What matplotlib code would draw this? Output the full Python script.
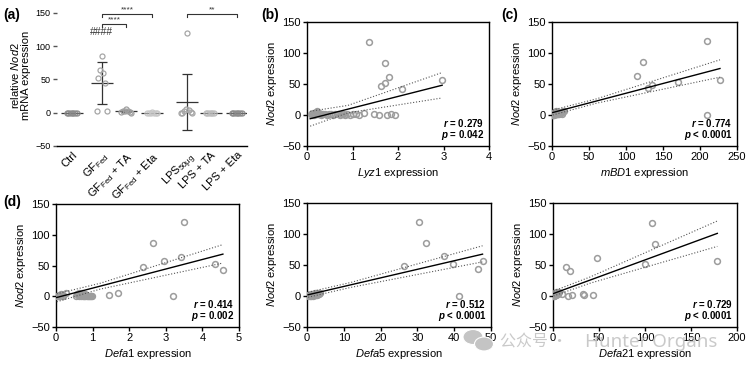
import matplotlib
matplotlib.use('Agg')
import matplotlib.pyplot as plt
import numpy as np
from matplotlib.patches import Ellipse

plt.rcParams['font.family'] = ['Liberation Sans', 'DejaVu Sans']
plt.rcParams['mathtext.fontset'] = 'custom'
plt.rcParams['mathtext.rm'] = 'Liberation Sans'
plt.rcParams['mathtext.it'] = 'Liberation Sans:italic'
plt.rcParams['mathtext.bf'] = 'Liberation Sans:bold'
plt.rcParams['mathtext.bfit'] = 'Liberation Sans:italic:bold'

# ---- panel (a): relative Nod2 mRNA expression per group ----
group_labels = ['Ctrl', r'GF$_{\rm Fed}$', r'GF$_{\rm Fed}$ + TA', r'GF$_{\rm Fed}$ + Eta',
                r'LPS$_{\rm 50\mu g}$', 'LPS + TA', 'LPS + Eta']
ctrl_vals = [0, 0, 0, 0, 0, 0, 0]
gf_vals = [86, 64, 59, 52, 45, 3, 3]
gf_ta_vals = [5, 3, 2, 2, 1, 1, 0]
gf_eta_vals = [0.5, 0, 0, 0, 0, 0, 0]
lps_vals = [120, 6, 4, 2, 1, 0, 0, 0]
lps_ta_vals = [0, 0, 0, 0, 0, 0]
lps_eta_vals = [0, 0, 0, 0, 0, 0, 0]
group_vals = [ctrl_vals, gf_vals, gf_ta_vals, gf_eta_vals, lps_vals, lps_ta_vals, lps_eta_vals]

# ---- scatter panels: Nod2 vs antimicrobial peptide expression ----
lyz1_x = [1.37, 1.72, 1.81, 1.72, 1.63, 2.09, 2.97,
          0.08, 0.1, 0.11, 0.12, 0.13, 0.15, 0.16, 0.17, 0.18, 0.2, 0.21, 0.22, 0.23, 0.25,
          0.26, 0.27, 0.3, 0.33, 0.36, 0.4, 0.44, 0.48, 0.52, 0.58, 0.62, 0.68, 0.72, 0.76,
          0.8, 0.84, 0.88, 0.95, 1.02, 1.08, 1.14, 1.25, 1.47, 1.58, 1.76, 1.85, 1.93]
lyz1_y = [118, 84, 62, 52, 47, 42, 57,
          1, 0, 2, 1, 3, 0, 2, 4, 1, 5, 2, 6, 3, 1,
          4, 2, 0, 1, 2, 1, 0, 1, 2, 0, 1, 2, 0, 1,
          2, 0, 1, 0, 1, 2, 0, 3, 1, 0, 0, 1, 0]

mbd1_x = [209, 123, 115, 227, 170, 135, 130, 209,
          0.3, 0.5, 0.8, 1, 1.2, 1.5, 1.8, 2, 2.3, 2.6, 3, 3.2, 3.5, 3.8, 4, 4.4, 4.8,
          5, 5.3, 5.7, 6, 6.4, 6.8, 7, 7.5, 8, 8.5, 9, 9.5, 10, 11, 12, 13, 14, 15, 16]
mbd1_y = [119, 85, 63, 57, 53, 48, 43, 0,
          0, 1, 0, 2, 1, 0, 3, 1, 2, 0, 4, 1, 2, 5, 3, 1, 2,
          6, 4, 2, 3, 1, 5, 2, 3, 4, 1, 2, 3, 5, 4, 3, 2, 5, 6, 6]

defa1_x = [3.5, 2.66, 2.94, 3.41, 2.39, 4.35, 4.56, 3.21, 1.45, 1.69, 0.27,
           0.02, 0.04, 0.06, 0.08, 0.1, 0.12, 0.14, 0.16, 0.18, 0.2,
           0.55, 0.58, 0.6, 0.62, 0.64, 0.66, 0.68, 0.7, 0.72, 0.74, 0.76, 0.78,
           0.8, 0.82, 0.85, 0.88, 0.9, 0.93, 0.96, 0.99]
defa1_y = [120, 86, 57, 64, 48, 53, 43, 0, 2, 6, 5,
           0, 1, 0, 2, 1, 0, 3, 1, 2, 0,
           1, 4, 2, 6, 0, 3, 1, 5, 2, 0, 1, 3,
           0, 2, 1, 0, 1, 0, 1, 0]

defa5_x = [30.5, 32.4, 37.1, 39.8, 26.4, 47.7, 46.6, 41.2,
           0.3, 0.5, 0.7, 0.9, 1.0, 1.2, 1.4, 1.5, 1.7, 1.8, 2.0, 2.1, 2.3, 2.4, 2.6,
           2.7, 2.9, 3.0, 3.2, 3.4, 0.6, 1.1, 1.6, 2.2, 0.4, 1.3]
defa5_y = [119, 85, 64, 52, 48, 57, 43, 0,
           0, 1, 2, 0, 3, 1, 2, 0, 4, 1, 2, 5, 3, 1, 4,
           2, 5, 3, 4, 5, 1, 0, 3, 2, 2, 1]

defa21_x = [108, 111, 48, 14, 19, 100, 178.6, 10, 16, 21, 33, 34, 43,
            0.2, 0.4, 0.6, 0.8, 1, 1.2, 1.5, 1.8, 2, 2.3, 2.6, 3, 3.3, 3.6, 4,
            4.4, 4.8, 5.2, 5.6, 6, 0.5, 1.3, 2.8, 3.8]
defa21_y = [118, 84, 62, 46, 41, 51, 56, 3, 0, 2, 3, 1, 2,
            0, 1, 0, 2, 3, 1, 4, 2, 5, 1, 3, 6, 2, 4, 5,
            3, 6, 4, 5, 6, 2, 0, 1, 3]

# fitted regression lines and 95% bands
lyz1_fit = ([0.07, 2.97], [-6, 48]);   lyz1_ci = ([0.07, 0.9, 2.97], [6, 15.5, 68.5], [-18, 3.5, 27.5])
mbd1_fit = ([1, 227], [4, 75]);        mbd1_ci = ([1, 60, 227], [8, 26, 89], [0, 19, 61])
defa1_fit = ([0.02, 4.56], [-2, 68.5]); defa1_ci = ([0.02, 1.2, 4.56], [4, 21, 84], [-9, 11.5, 54])
defa5_fit = ([0.3, 47.7], [2, 67.5]);  defa5_ci = ([0.3, 12, 47.7], [6, 22, 81], [-2, 14, 55])
defa21_fit = ([0.5, 178.6], [4, 101]); defa21_ci = ([0.5, 40, 178.6], [8, 30.5, 121], [0, 20.5, 80])

stats = {'b': ('0.279', '= 0.042'), 'c': ('0.774', '< 0.0001'), 'd': ('0.414', '= 0.002'),
         'e': ('0.512', '< 0.0001'), 'f': ('0.729', '< 0.0001')}

W, H = 750, 369
fig = plt.figure(figsize=(7.5, 3.69), dpi=100)


def px_axes(left, top, right, bottom):
    return fig.add_axes([left / W, 1 - bottom / H, (right - left) / W, (bottom - top) / H])


def style_axes(ax):
    for s in ax.spines.values():
        s.set_linewidth(1.0)
        s.set_color('black')
    ax.tick_params(direction='out', length=3, width=1, labelsize=8, pad=1.5)


# ---------- panel (a) ----------
ax = px_axes(57, 4.3, 247, 146)
positions = [0, 1.15, 2.1, 3.1, 4.45, 5.35, 6.35]
pt_colors = ['#8c8c8c', '#a6a6a6', '#a0a0a0', '#c8c8c8', '#a6a6a6', '#bdbdbd', '#8c8c8c']
for pos, vals, col in zip(positions, group_vals, pt_colors):
    v = sorted(vals, reverse=True)
    offs = [((i + 1) // 2) * 0.065 * (-1) ** i for i in range(len(v))]
    ax.plot(pos + np.array(offs), v, 'o', ms=3.6, mfc='none', mec=col, mew=0.9, zorder=3)
    m = np.mean(vals)
    sd = np.std(vals, ddof=1)
    ax.hlines(m, pos - 0.42, pos + 0.42, color='#333333', lw=0.9, zorder=2)
    if sd > 0.5:
        ax.errorbar(pos, m, yerr=sd, fmt='none', ecolor='#333333', elinewidth=0.9,
                    capsize=3.5, capthick=0.9, zorder=2)

ax.text(positions[1], 114, '####', ha='center', va='bottom', fontsize=7.5, color='#333333')


def bracket(x1, x2, y, txt):
    ax.plot([x1, x1, x2, x2], [y - 4, y, y, y - 4], color='#333333', lw=0.8)
    ax.text((x1 + x2) / 2, y + 1, txt, ha='center', va='bottom', fontsize=6, color='#333333')


bracket(positions[1], positions[2], 133, '****')
bracket(positions[1], positions[3], 148, '****')
bracket(positions[4], positions[6], 148, '**')

ax.set_xlim(-0.57, 6.75)
ax.set_ylim(-50, 163)
ax.set_yticks([-50, 0, 50, 100, 150])
ax.set_xticks(positions)
ax.set_xticklabels(group_labels, rotation=45, ha='right', rotation_mode='anchor', fontsize=5.5)
style_axes(ax)
ax.tick_params(axis='x', length=0, pad=3)
ax.tick_params(axis='y', labelsize=6.5, color='#555555')
ax.spines['left'].set_visible(False)
ax.spines['top'].set_visible(False)
ax.spines['right'].set_visible(False)
ax.set_ylabel('relative $\\mathit{Nod2}$\nmRNA expression', fontsize=8, labelpad=3, linespacing=1.0)


# ---------- scatter panels ----------
def scatter_panel(box, x, y, fit, ci, xlim, xticks, gene, key):
    ax = px_axes(*box)
    ax.plot(x, y, 'o', ms=4.2, mfc='none', mec='#9c9c9c', mew=1.1, zorder=3)
    ax.plot(fit[0], fit[1], color='black', lw=1.0, zorder=4)
    ax.plot(ci[0], ci[1], color='#555555', lw=0.8, ls=':', zorder=4)
    ax.plot(ci[0], ci[2], color='#555555', lw=0.8, ls=':', zorder=4)
    ax.set_xlim(*xlim)
    ax.set_ylim(-50, 150)
    ax.set_xticks(xticks)
    ax.set_yticks([-50, 0, 50, 100, 150])
    style_axes(ax)
    ax.set_xlabel('$\\mathit{%s}$ expression' % gene, fontsize=8, labelpad=3)
    ax.set_ylabel('$\\mathit{Nod2}$ expression', fontsize=8, labelpad=2)
    r, p = stats[key]
    ax.text(0.975, 0.14, '$\\mathbfit{r}$ = ' + r, transform=ax.transAxes, ha='right',
            va='bottom', fontsize=7, fontweight='bold')
    ax.text(0.975, 0.03, '$\\mathbfit{p}$ ' + p, transform=ax.transAxes, ha='right',
            va='bottom', fontsize=7, fontweight='bold')
    return ax


scatter_panel((307, 22, 489, 146), lyz1_x, lyz1_y, lyz1_fit, lyz1_ci, (0, 4), [0, 1, 2, 3, 4], 'Lyz1', 'b')
scatter_panel((552, 22, 737, 146), mbd1_x, mbd1_y, mbd1_fit, mbd1_ci, (0, 250), [0, 50, 100, 150, 200, 250], 'mBD1', 'c')
scatter_panel((56, 204, 239, 327), defa1_x, defa1_y, defa1_fit, defa1_ci, (0, 5), [0, 1, 2, 3, 4, 5], 'Defa1', 'd')
scatter_panel((307, 203, 491, 327), defa5_x, defa5_y, defa5_fit, defa5_ci, (0, 50), [0, 10, 20, 30, 40, 50], 'Defa5', 'e')
scatter_panel((553, 203, 737, 327), defa21_x, defa21_y, defa21_fit, defa21_ci, (0, 200), [0, 50, 100, 150, 200], 'Defa21', 'f')

# panel letters
for lab, (px, py) in {'(a)': (3, 15), '(b)': (261, 15), '(c)': (501, 15), '(d)': (3, 202)}.items():
    fig.text(px / W, 1 - py / H, lab, fontsize=10, fontweight='bold', va='center', ha='left')

# watermark
for (cx, cy, w, h) in [(473, 337, 20, 15), (484, 344, 19, 14)]:
    fig.add_artist(Ellipse((cx / W, 1 - cy / H), w / W, h / H, transform=fig.transFigure,
                           facecolor='#c4c4c4', edgecolor='white', lw=0.8, zorder=10))
fig.text(500 / W, 1 - 342 / H, '公众号 ·', fontsize=11.5, color='#c4c4c4', va='center',
         family=['Noto Sans CJK SC', 'DejaVu Sans'], zorder=10, alpha=0.9)
fig.text(585 / W, 1 - 342 / H, 'Hunter Organs', fontsize=13.5, color='#c4c4c4', va='center',
         family=['Noto Sans', 'DejaVu Sans'], zorder=10, alpha=0.9)

fig.savefig('out.png', dpi=100)
